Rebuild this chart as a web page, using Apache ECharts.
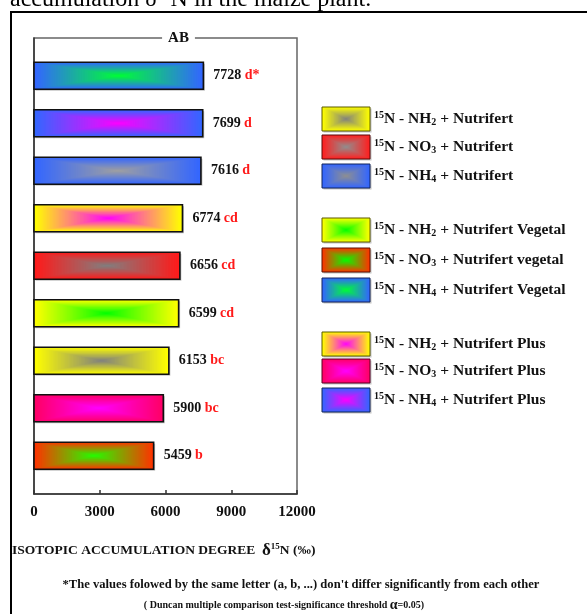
<!DOCTYPE html>
<html><head><meta charset="utf-8">
<script src="https://cdn.jsdelivr.net/npm/echarts@6/dist/echarts.min.js"></script>
<style>html,body{margin:0;padding:0;background:#fff}#c{width:587px;height:614px}</style>
</head><body><div id="c"></div>
<script>
// ---- data ----
const categories = ['NH4 + Nutrifert Vegetal','NH4 + Nutrifert Plus','NH4 + Nutrifert','NH2 + Nutrifert Plus','NO3 + Nutrifert','NH2 + Nutrifert Vegetal','NH2 + Nutrifert','NO3 + Nutrifert Plus','NO3 + Nutrifert vegetal'];
const values = [7728, 7699, 7616, 6774, 6656, 6599, 6153, 5900, 5459];
const letters = ['d*', 'd', 'd', 'cd', 'cd', 'cd', 'bc', 'bc', 'b'];
const barOuter = ['#3366ff','#3366ff','#3366ff','#ffff00','#ff1a1a','#ffff00','#ffff00','#ff0066','#ff3300'];
const barCenter = ['#00ff33','#ff00ff','#a0a0a0','#ff00ff','#808080','#00ff00','#808080','#ff00ff','#22ff00'];
const xTicks = [0, 3000, 6000, 9000, 12000];
const legendIon = ['NH','NO','NH','NH','NO','NH','NH','NO','NH'];
const legendSub = ['2','3','4','2','3','4','2','3','4'];
const legendSuffix = ['Nutrifert','Nutrifert','Nutrifert','Nutrifert Vegetal','Nutrifert vegetal','Nutrifert Vegetal','Nutrifert Plus','Nutrifert Plus','Nutrifert Plus'];
const legendOuter = ['#ffff00','#ff2020','#3366ff','#ffff00','#ff3300','#3366ff','#ffff00','#ff0066','#3366ff'];
const legendCenter = ['#808080','#909090','#909090','#00ff00','#00ff00','#00ff33','#ff00ff','#ff00ff','#ff00ff'];
const legendY = [119, 147, 176, 230, 260, 290, 344, 371, 400];

const FF = "'Liberation Serif','Times New Roman',serif";

function hex(c){c=c.replace('#','');return [parseInt(c.substr(0,2),16),parseInt(c.substr(2,2),16),parseInt(c.substr(4,2),16)];}
function mix(a,b,m){return 'rgb('+a.map((v,i)=>Math.round(v+(b[i]-v)*m)).join(',')+')';}
function darken(c,f){const a=hex(c);return 'rgb('+a.map(v=>Math.round(v*f)).join(',')+')';}
function gradRects(x,y,w,h,c1,c2,n){
  const a=hex(c1), b=hex(c2), cx=x+w/2, cy=y+h/2, out=[];
  for(let k=0;k<n;k++){
    const t=1-k/n;
    out.push({type:'rect',shape:{x:cx-t*w/2,y:cy-t*h/2,width:t*w,height:t*h},style:{fill:mix(a,b,k/n)}});
  }
  return out;
}

const labelRich = {
  v:{fontFamily:FF,fontWeight:'bold',fontSize:14,fill:'#111'},
  l:{fontFamily:FF,fontWeight:'bold',fontSize:14,fill:'#ff1a1a'}
};

function renderItem(params, api){
  const i = params.dataIndex;
  const v = api.value(0);
  const p0 = api.coord([0, i]);
  const p1 = api.coord([v, i]);
  const h = 27;
  const x0 = p0[0], w = p1[0]-p0[0], y0 = p0[1]-h/2;
  const children = [];
  children.push({type:'rect',shape:{x:x0+1.5,y:y0+1.5,width:w,height:h},style:{fill:'#c4c4c4'}});
  gradRects(x0,y0,w,h,barOuter[i],barCenter[i],50).forEach(r=>children.push(r));
  children.push({type:'rect',shape:{x:x0,y:y0,width:w,height:h},style:{fill:null,stroke:'#111',lineWidth:1.6}});
  children.push({type:'text',style:{text:'{v|'+values[i]+'} {l|'+letters[i]+'}',rich:labelRich,x:p1[0]+10,y:p0[1],verticalAlign:'middle',align:'left'}});
  return {type:'group',children};
}

// legend graphics
const legendGraphics = [];
const legRich = {
  m:{fontFamily:FF,fontWeight:'bold',fontSize:15.5,fill:'#111'},
  sup:{fontFamily:FF,fontWeight:'bold',fontSize:10,fill:'#111',padding:[0,0,8,0]},
  sub:{fontFamily:FF,fontWeight:'bold',fontSize:10,fill:'#111',padding:[7,0,0,0]}
};
for(let i=0;i<legendIon.length;i++){
  const sw=48, sh=24, sx=322, sy=legendY[i]-sh/2;
  const ch=[];
  ch.push({type:'rect',shape:{x:sx+1.5,y:sy+1.5,width:sw,height:sh},style:{fill:'#c4c4c4'}});
  gradRects(sx,sy,sw,sh,legendOuter[i],legendCenter[i],30).forEach(r=>ch.push(r));
  ch.push({type:'rect',shape:{x:sx,y:sy,width:sw,height:sh},style:{fill:null,stroke:darken(legendOuter[i],0.35),lineWidth:1}});
  ch.push({type:'text',style:{text:'{sup|15}{m|N - '+legendIon[i]+'}{sub|'+legendSub[i]+'}{m| + '+legendSuffix[i]+'}',rich:legRich,x:374,y:legendY[i],verticalAlign:'middle',align:'left'}});
  legendGraphics.push({type:'group',children:ch});
}

const chart = echarts.init(document.getElementById('c'));
chart.setOption({
  animation:false,
  backgroundColor:'#fff',
  grid:[
    {left:34,top:38,width:263,height:456,show:true,borderColor:'#666',borderWidth:1.5,backgroundColor:'transparent'},
    {left:34,top:52,width:263,height:427.5}
  ],
  xAxis:[
    {gridIndex:0,type:'value',min:xTicks[0],max:xTicks[xTicks.length-1],interval:xTicks[1]-xTicks[0],
     splitLine:{show:false},
     axisLine:{show:true,lineStyle:{color:'#333',width:1.5}},
     axisTick:{show:true,inside:true,length:4,lineStyle:{color:'#333',width:1.5}},
     axisLabel:{margin:11,fontFamily:FF,fontWeight:'bold',fontSize:15,color:'#111',formatter:function(v){return String(v);}}},
    {gridIndex:1,type:'value',min:xTicks[0],max:xTicks[xTicks.length-1],show:false}
  ],
  yAxis:[
    {gridIndex:0,type:'value',min:0,max:1,axisLine:{show:true,onZero:false,lineStyle:{color:'#333',width:1.5}},axisTick:{show:false},axisLabel:{show:false},splitLine:{show:false}},
    {gridIndex:1,type:'category',data:categories,inverse:true,show:false}
  ],
  series:[{
    type:'custom',xAxisIndex:1,yAxisIndex:1,clip:false,
    renderItem:renderItem,
    data:values.map((v,i)=>[v,i])
  }],
  graphic:[
    {type:'polyline',shape:{points:[[11,614],[11,12],[587,12]]},style:{stroke:'#000',lineWidth:2,fill:null}},
    {type:'text',style:{text:'{t|accumulation δ}{s|15}{t|N in the maize plant.}',x:10,y:0,verticalAlign:'middle',
      rich:{t:{fontFamily:FF,fontSize:24,fill:'#000'},s:{fontFamily:FF,fontSize:14,fill:'#000',padding:[0,0,10,0]}}}},
    {type:'text',style:{text:'AB',x:178.5,y:38,align:'center',verticalAlign:'middle',fontFamily:FF,fontWeight:'bold',fontSize:15,fill:'#111',backgroundColor:'#fff',padding:[1,6]}},
    {type:'text',style:{text:'{a|ISOTOPIC ACCUMULATION DEGREE  }{d|δ}{s|15}{a|N (‰)}',x:12,y:551,verticalAlign:'middle',
      rich:{a:{fontFamily:FF,fontWeight:'bold',fontSize:13.5,fill:'#111'},d:{fontFamily:FF,fontWeight:'bold',fontSize:17,fill:'#111'},s:{fontFamily:FF,fontWeight:'bold',fontSize:9,fill:'#111',padding:[0,0,8,0]}}}},
    {type:'text',style:{text:"*The values folowed by the same letter (a, b, ...) don't differ significantly from each other",x:301,y:585,align:'center',verticalAlign:'middle',fontFamily:FF,fontWeight:'bold',fontSize:12.6,fill:'#111'}},
    {type:'text',style:{text:'{a|( Duncan multiple comparison test-significance threshold }{b|α}{a|=0.05)}',x:284,y:605,align:'center',verticalAlign:'middle',
      rich:{a:{fontFamily:FF,fontWeight:'bold',fontSize:10,fill:'#111'},b:{fontFamily:FF,fontWeight:'bold',fontSize:14,fill:'#111'}}}}
  ].concat(legendGraphics)
});
</script></body></html>
